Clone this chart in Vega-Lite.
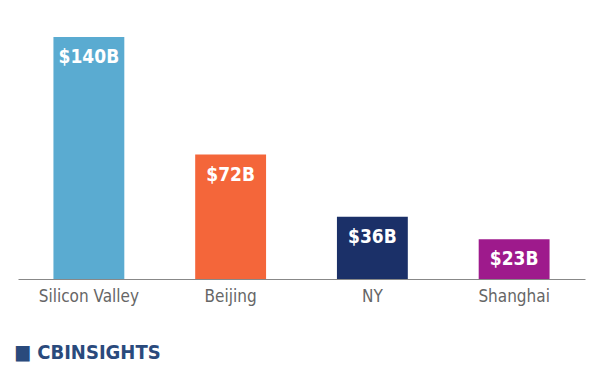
{
  "$schema": "https://vega.github.io/schema/vega-lite/v6.json",
  "width": 567,
  "height": 242,
  "autosize": {"type": "none"},
  "padding": {"left": 18, "top": 37, "right": 15, "bottom": 101},
  "background": "white",
  "config": {"view": {"stroke": null}},
  "title": {
    "text": "■ CBINSIGHTS",
    "orient": "bottom",
    "anchor": "start",
    "offset": 39,
    "dx": -4,
    "font": "DejaVu Sans Condensed",
    "fontSize": 20,
    "fontWeight": "bold",
    "color": "#2a4a7c"
  },
  "data": {
    "values": [
      {"city": "Silicon Valley", "value": 140, "label": "$140B"},
      {"city": "Beijing", "value": 72, "label": "$72B"},
      {"city": "NY", "value": 36, "label": "$36B"},
      {"city": "Shanghai", "value": 23, "label": "$23B"}
    ]
  },
  "encoding": {
    "x": {
      "field": "city",
      "type": "nominal",
      "sort": null,
      "scale": {"paddingInner": 0.5, "paddingOuter": 0.25},
      "axis": {
        "title": null,
        "labelAngle": 0,
        "ticks": false,
        "domainColor": "#888888",
        "domainWidth": 1,
        "labelFont": "DejaVu Sans Condensed",
        "labelFontSize": 17,
        "labelColor": "#666666",
        "labelPadding": 9
      }
    },
    "y": {
      "field": "value",
      "type": "quantitative",
      "scale": {"domain": [0, 140], "nice": false},
      "axis": null
    }
  },
  "layer": [
    {
      "mark": {"type": "bar"},
      "encoding": {
        "color": {
          "field": "city",
          "type": "nominal",
          "scale": {
            "domain": ["Silicon Valley", "Beijing", "NY", "Shanghai"],
            "range": ["#5aabd1", "#f4663a", "#1b3068", "#9e1a8c"]
          },
          "legend": null
        }
      }
    },
    {
      "mark": {
        "type": "text",
        "baseline": "middle",
        "dy": 20,
        "color": "white",
        "font": "DejaVu Sans Condensed",
        "fontSize": 19,
        "fontWeight": "bold"
      },
      "encoding": {"text": {"field": "label"}}
    }
  ]
}
